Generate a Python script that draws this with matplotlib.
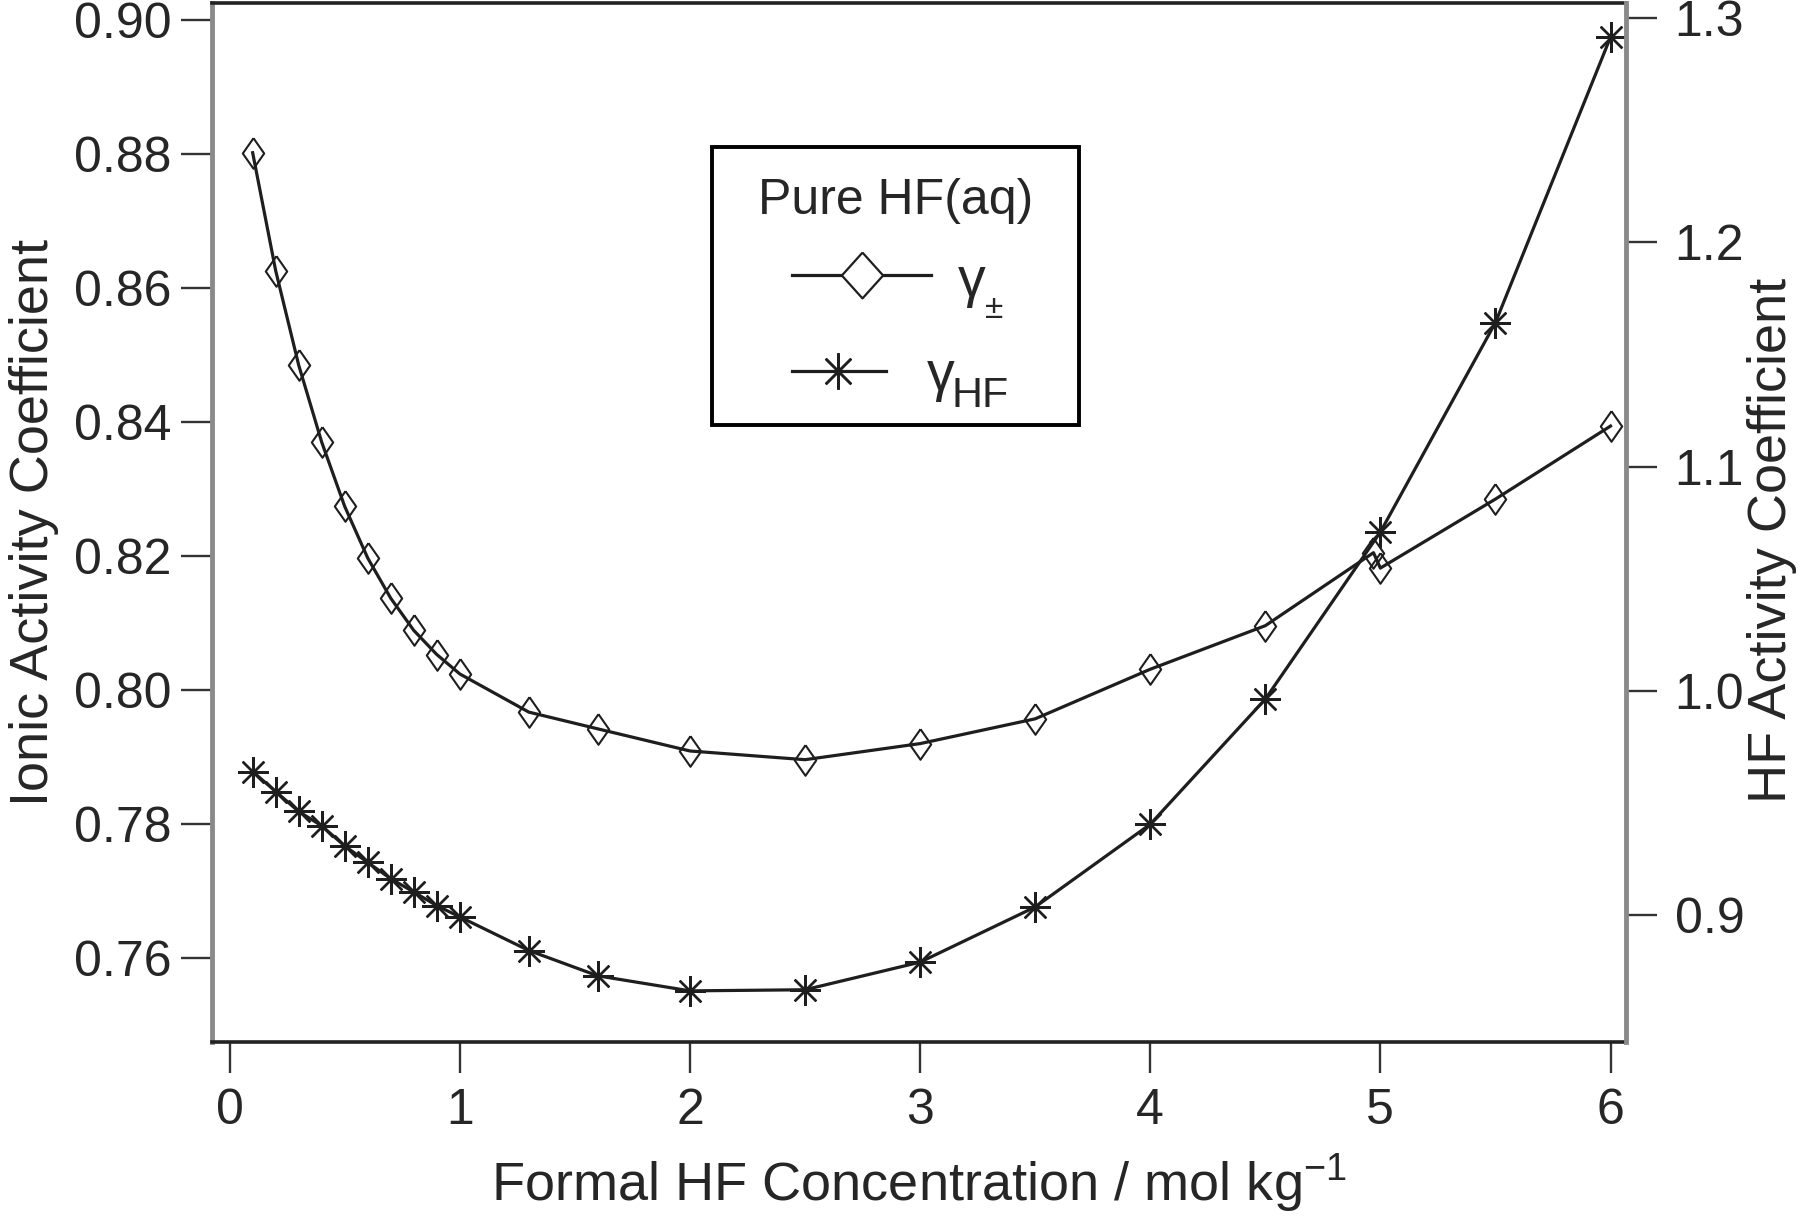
import matplotlib
matplotlib.use('Agg')
import matplotlib.pyplot as plt
from matplotlib.lines import Line2D
from matplotlib.patches import Rectangle

plt.rcParams['font.family'] = ['Liberation Sans', 'DejaVu Sans']
plt.rcParams['mathtext.fontset'] = 'custom'
plt.rcParams['mathtext.rm'] = 'Liberation Sans'
plt.rcParams['mathtext.it'] = 'Liberation Sans:italic'
plt.rcParams['mathtext.bf'] = 'Liberation Sans:bold'

# ionic mean activity coefficient (left axis)
conc_pm = [0.1, 0.2, 0.3, 0.4, 0.5, 0.6, 0.7, 0.8, 0.9, 1.0, 1.3, 1.6,
           2.0, 2.5, 3.0, 3.5, 4.0, 4.5, 4.97, 5.0, 5.5, 6.0]
gamma_pm = [0.8802, 0.8626, 0.8485, 0.8370, 0.8274, 0.8197, 0.8137, 0.8089,
            0.8053, 0.8024, 0.7967, 0.7942, 0.7909, 0.7896, 0.7920, 0.7957,
            0.8031, 0.8096, 0.8205, 0.8182, 0.8285, 0.8394]

# HF activity coefficient (right axis)
conc_hf = [0.1, 0.2, 0.3, 0.4, 0.5, 0.6, 0.7, 0.8, 0.9, 1.0, 1.3, 1.6,
           2.0, 2.5, 3.0, 3.5, 4.0, 4.5, 5.0, 5.5, 6.0]
gamma_hf = [0.9640, 0.9551, 0.9462, 0.9398, 0.9308, 0.9235, 0.9162, 0.9103,
            0.9042, 0.8992, 0.8842, 0.8729, 0.8662, 0.8667, 0.8790, 0.9036,
            0.9405, 0.9963, 1.0708, 1.1642, 1.2915]

x_ticks = [0, 1, 2, 3, 4, 5, 6]
left_ticks = [0.76, 0.78, 0.80, 0.82, 0.84, 0.86, 0.88, 0.90]
right_ticks = [0.9, 1.0, 1.1, 1.2, 1.3]

diamond = [(0, 1), (0.7, 0), (0, -1), (-0.7, 0), (0, 1)]
star = (8, 2, 0)
line_col = '#1e1e1e'
text_col = '#262626'

W, H = 1800, 1220
fig = plt.figure(figsize=(18, 12.2), dpi=100)
ax = fig.add_axes([0.1178, 0.1459, 0.7855, 0.8516])
ax2 = ax.twinx()

ax.plot(conc_pm, gamma_pm, color=line_col, lw=2.3, marker=diamond,
        ms=22, mfc='none', mec=line_col, mew=1.5)
ax2.plot(conc_hf, gamma_hf, color=line_col, lw=2.3, marker=star,
         ms=22, mec=line_col, mew=1.7)

ax.set_xlim(-0.0765, 6.067)
ax.set_ylim(0.74746, 0.90254)
ax2.set_ylim(0.8434, 1.3067)

ax.set_xticks(x_ticks)
ax.set_xticklabels([str(v) for v in x_ticks])
ax.set_yticks(left_ticks)
ax.set_yticklabels([f'{v:.2f}' for v in left_ticks])
ax2.set_yticks(right_ticks)
ax2.set_yticklabels([f'{v:.1f}' for v in right_ticks])

tick_kw = dict(direction='out', length=22, width=1.7, labelsize=36,
               color='#333333', labelcolor=text_col)
ax.tick_params(axis='x', pad=11, **tick_kw)
ax.tick_params(axis='y', pad=7, **tick_kw)
ax2.tick_params(axis='y', pad=13, **tick_kw)

for name, sp in ax.spines.items():
    if name in ('top', 'bottom'):
        sp.set_color('#222222')
        sp.set_linewidth(2.6)
    elif name == 'left':
        sp.set_color('#8a8a8a')
        sp.set_linewidth(3.5)
    else:
        sp.set_visible(False)
for name, sp in ax2.spines.items():
    if name == 'right':
        sp.set_color('#8a8a8a')
        sp.set_linewidth(3.5)
    else:
        sp.set_visible(False)

ax.set_xlabel('Formal HF Concentration / mol kg$^{-1}$', fontsize=39,
              labelpad=13, color=text_col)
ax.set_ylabel('Ionic Activity Coefficient', fontsize=39, labelpad=11,
              color=text_col)
ax2.set_ylabel('HF Activity Coefficient', fontsize=39, color=text_col)
ax2.yaxis.set_label_coords(1.0855, 0.483)


# legend box drawn by hand (pixel positions measured from the top-left)
def fx(px):
    return px / W


def fy(py):
    return 1 - py / H


fig.add_artist(Rectangle((fx(712), fy(425)), fx(367), 278 / H,
                         transform=fig.transFigure, facecolor='white',
                         edgecolor='black', linewidth=2.8, zorder=3))
fig.text(fx(896), fy(201), 'Pure HF(aq)', fontsize=36, color=text_col,
         ha='center', va='center', zorder=5)

fig.add_artist(Line2D([fx(792), fx(931)], [fy(275), fy(275)],
                      transform=fig.transFigure, color=line_col, lw=2.3,
                      zorder=4))
fig.add_artist(Line2D([fx(862)], [fy(275)], transform=fig.transFigure,
                      marker=[(0, 1), (0.9, 0), (0, -1), (-0.9, 0), (0, 1)],
                      ms=33, mfc='white', mec=line_col, mew=1.6, zorder=4))
fig.text(fx(958), fy(296), 'γ', fontsize=40, color=text_col,
         ha='left', va='baseline', zorder=5)
fig.text(fx(985), fy(318), '±', fontsize=24, color=text_col,
         ha='left', va='baseline', zorder=5)

fig.add_artist(Line2D([fx(792), fx(886)], [fy(371), fy(371)],
                      transform=fig.transFigure, color=line_col, lw=2.3,
                      zorder=4))
fig.add_artist(Line2D([fx(838)], [fy(371)], transform=fig.transFigure,
                      marker=star, ms=26, mec=line_col, mew=1.8, zorder=4))
fig.text(fx(927), fy(390), 'γ', fontsize=40, color=text_col,
         ha='left', va='baseline', zorder=5)
fig.text(fx(952), fy(407), 'HF', fontsize=31, color=text_col,
         ha='left', va='baseline', zorder=5)

fig.savefig('out.png', dpi=100)
plt.close(fig)
